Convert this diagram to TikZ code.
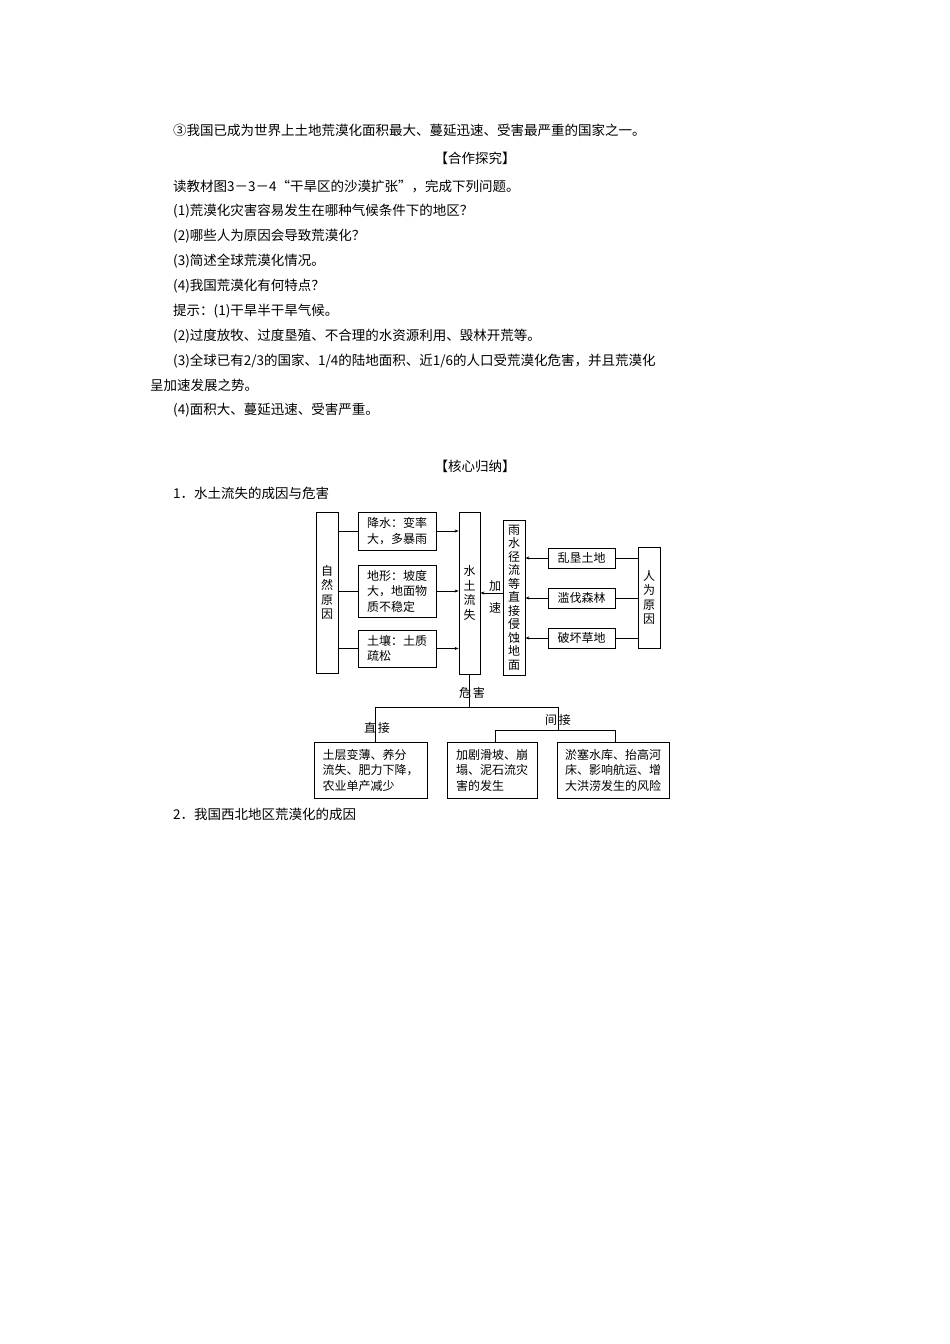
\documentclass[tikz,border=0pt]{standalone}
\usepackage{fontspec}
\setmainfont{Noto Sans CJK SC}
\usetikzlibrary{arrows.meta}
\begin{document}
\begin{tikzpicture}[x=1pt,y=-1pt,
  txt/.style={anchor=west,inner sep=0,font=\fontsize{13.5}{14}\selectfont},
  bx/.style={draw,line width=0.8pt,inner sep=1pt,font=\fontsize{12}{15.5}\selectfont,align=left},
  vb/.style={draw,line width=0.8pt,inner sep=0,font=\fontsize{12}{14.5}\selectfont,align=center},
  lab/.style={inner sep=0,font=\fontsize{12}{14}\selectfont},
  ln/.style={line width=0.7pt},
  ar/.style={line width=0.7pt,-{Stealth[length=4pt,width=3pt]}}]
\useasboundingbox (0,0) rectangle (950,1344);
\node[txt] (t1) at (173,130) {③我国已成为世界上土地荒漠化面积最大、蔓延迅速、受害最严重的国家之一。};
\node[txt,anchor=center] (t2) at (475,158) {【合作探究】};
\node[txt] (t3) at (173,186) {读教材图3－3－4“干旱区的沙漠扩张”，完成下列问题。};
\node[txt] (t4) at (173,211) {(1)荒漠化灾害容易发生在哪种气候条件下的地区？};
\node[txt] (t5) at (173,236) {(2)哪些人为原因会导致荒漠化？};
\node[txt] (t6) at (173,261) {(3)简述全球荒漠化情况。};
\node[txt] (t7) at (173,286) {(4)我国荒漠化有何特点？};
\node[txt] (t8) at (173,311) {提示：(1)干旱半干旱气候。};
\node[txt] (t9) at (173,336) {(2)过度放牧、过度垦殖、不合理的水资源利用、毁林开荒等。};
\node[txt] (t10) at (173,361) {(3)全球已有2/3的国家、1/4的陆地面积、近1/6的人口受荒漠化危害，并且荒漠化};
\node[txt] (t11) at (150,385) {呈加速发展之势。};
\node[txt] (t12) at (173,410) {(4)面积大、蔓延迅速、受害严重。};
\node[txt,anchor=center] (t13) at (475,466) {【核心归纳】};
\node[txt] (t14) at (173,493) {1．水土流失的成因与危害};
\node[txt] (t15) at (173,814) {2．我国西北地区荒漠化的成因};
% diagram
\node[vb,minimum width=22,minimum height=161] (zr) at (327,592.5) {自\\然\\原\\因};
\node[bx,minimum width=78,minimum height=38] (js) at (397,531) {降水：变率\\大，多暴雨};
\node[bx,minimum width=78,minimum height=52] (dx) at (397,591) {地形：坡度\\大，地面物\\质不稳定};
\node[bx,minimum width=78,minimum height=37,anchor=center] (tr) at (397,648.5) {土壤：土质\\疏松};
\node[vb,minimum width=21,minimum height=162] (sl) at (469.5,593) {水\\土\\流\\失};
\node[vb,minimum width=22,minimum height=155,font=\fontsize{12}{13.5}\selectfont] (ys) at (514,597.5) {雨\\水\\径\\流\\等\\直\\接\\侵\\蚀\\地\\面};
\node[bx,minimum width=67,minimum height=20,align=center] (lk) at (581.5,558) {乱垦土地};
\node[bx,minimum width=67,minimum height=20,align=center] (lf) at (581.5,598) {滥伐森林};
\node[bx,minimum width=67,minimum height=20,align=center] (ph) at (581.5,638) {破坏草地};
\node[vb,minimum width=22,minimum height=101] (rw) at (649,597.5) {人\\为\\原\\因};
\node[bx,minimum width=113,minimum height=56] (b1) at (370.5,770) {土层变薄、养分\\流失、肥力下降，\\农业单产减少};
\node[bx,minimum width=90,minimum height=56] (b2) at (492,770) {加剧滑坡、崩\\塌、泥石流灾\\害的发生};
\node[bx,minimum width=112,minimum height=56] (b3) at (613,770) {淤塞水库、抬高河\\床、影响航运、增\\大洪涝发生的风险};
\node[lab] (ja) at (495,586) {加};
\node[lab] (jb) at (495,608) {速};
\node[lab] (wh) at (472,693) {危\,害};
\node[lab] (zj) at (377,728) {直\,接};
\node[lab] (jj) at (558,720) {间\,接};
% connectors
\draw[ln] (zr.east |- js) -- (js.west);
\draw[ln] (zr.east |- dx) -- (dx.west);
\draw[ln] (zr.east |- tr) -- (tr.west);
\draw[ar] (js.east) -- (sl.west |- js);
\draw[ar] (dx.east) -- (sl.west |- dx);
\draw[ar] (tr.east) -- (sl.west |- tr);
\draw[ar] (ys.west |- sl) -- (sl.east);
\draw[ar] (lk.west) -- (ys.east |- lk);
\draw[ar] (lf.west) -- (ys.east |- lf);
\draw[ar] (ph.west) -- (ys.east |- ph);
\draw[ln] (rw.west |- lk) -- (lk.east);
\draw[ln] (rw.west |- lf) -- (lf.east);
\draw[ln] (rw.west |- ph) -- (ph.east);
\coordinate (h1) at (469.5,707);
\coordinate (h2) at (375,707);
\coordinate (h3) at (558,707);
\coordinate (h4) at (495,730);
\coordinate (h5) at (615,730);
\draw[ln] (sl.south) -- (h1);
\draw[ln] (h2) -- (h3);
\draw[ln] (h2) -- (h2 |- b1.north);
\draw[ln] (h3) -- (h3 |- h4);
\draw[ln] (h4) -- (h5);
\draw[ln] (h4) -- (h4 |- b2.north);
\draw[ln] (h5) -- (h5 |- b3.north);
\end{tikzpicture}
\end{document}
